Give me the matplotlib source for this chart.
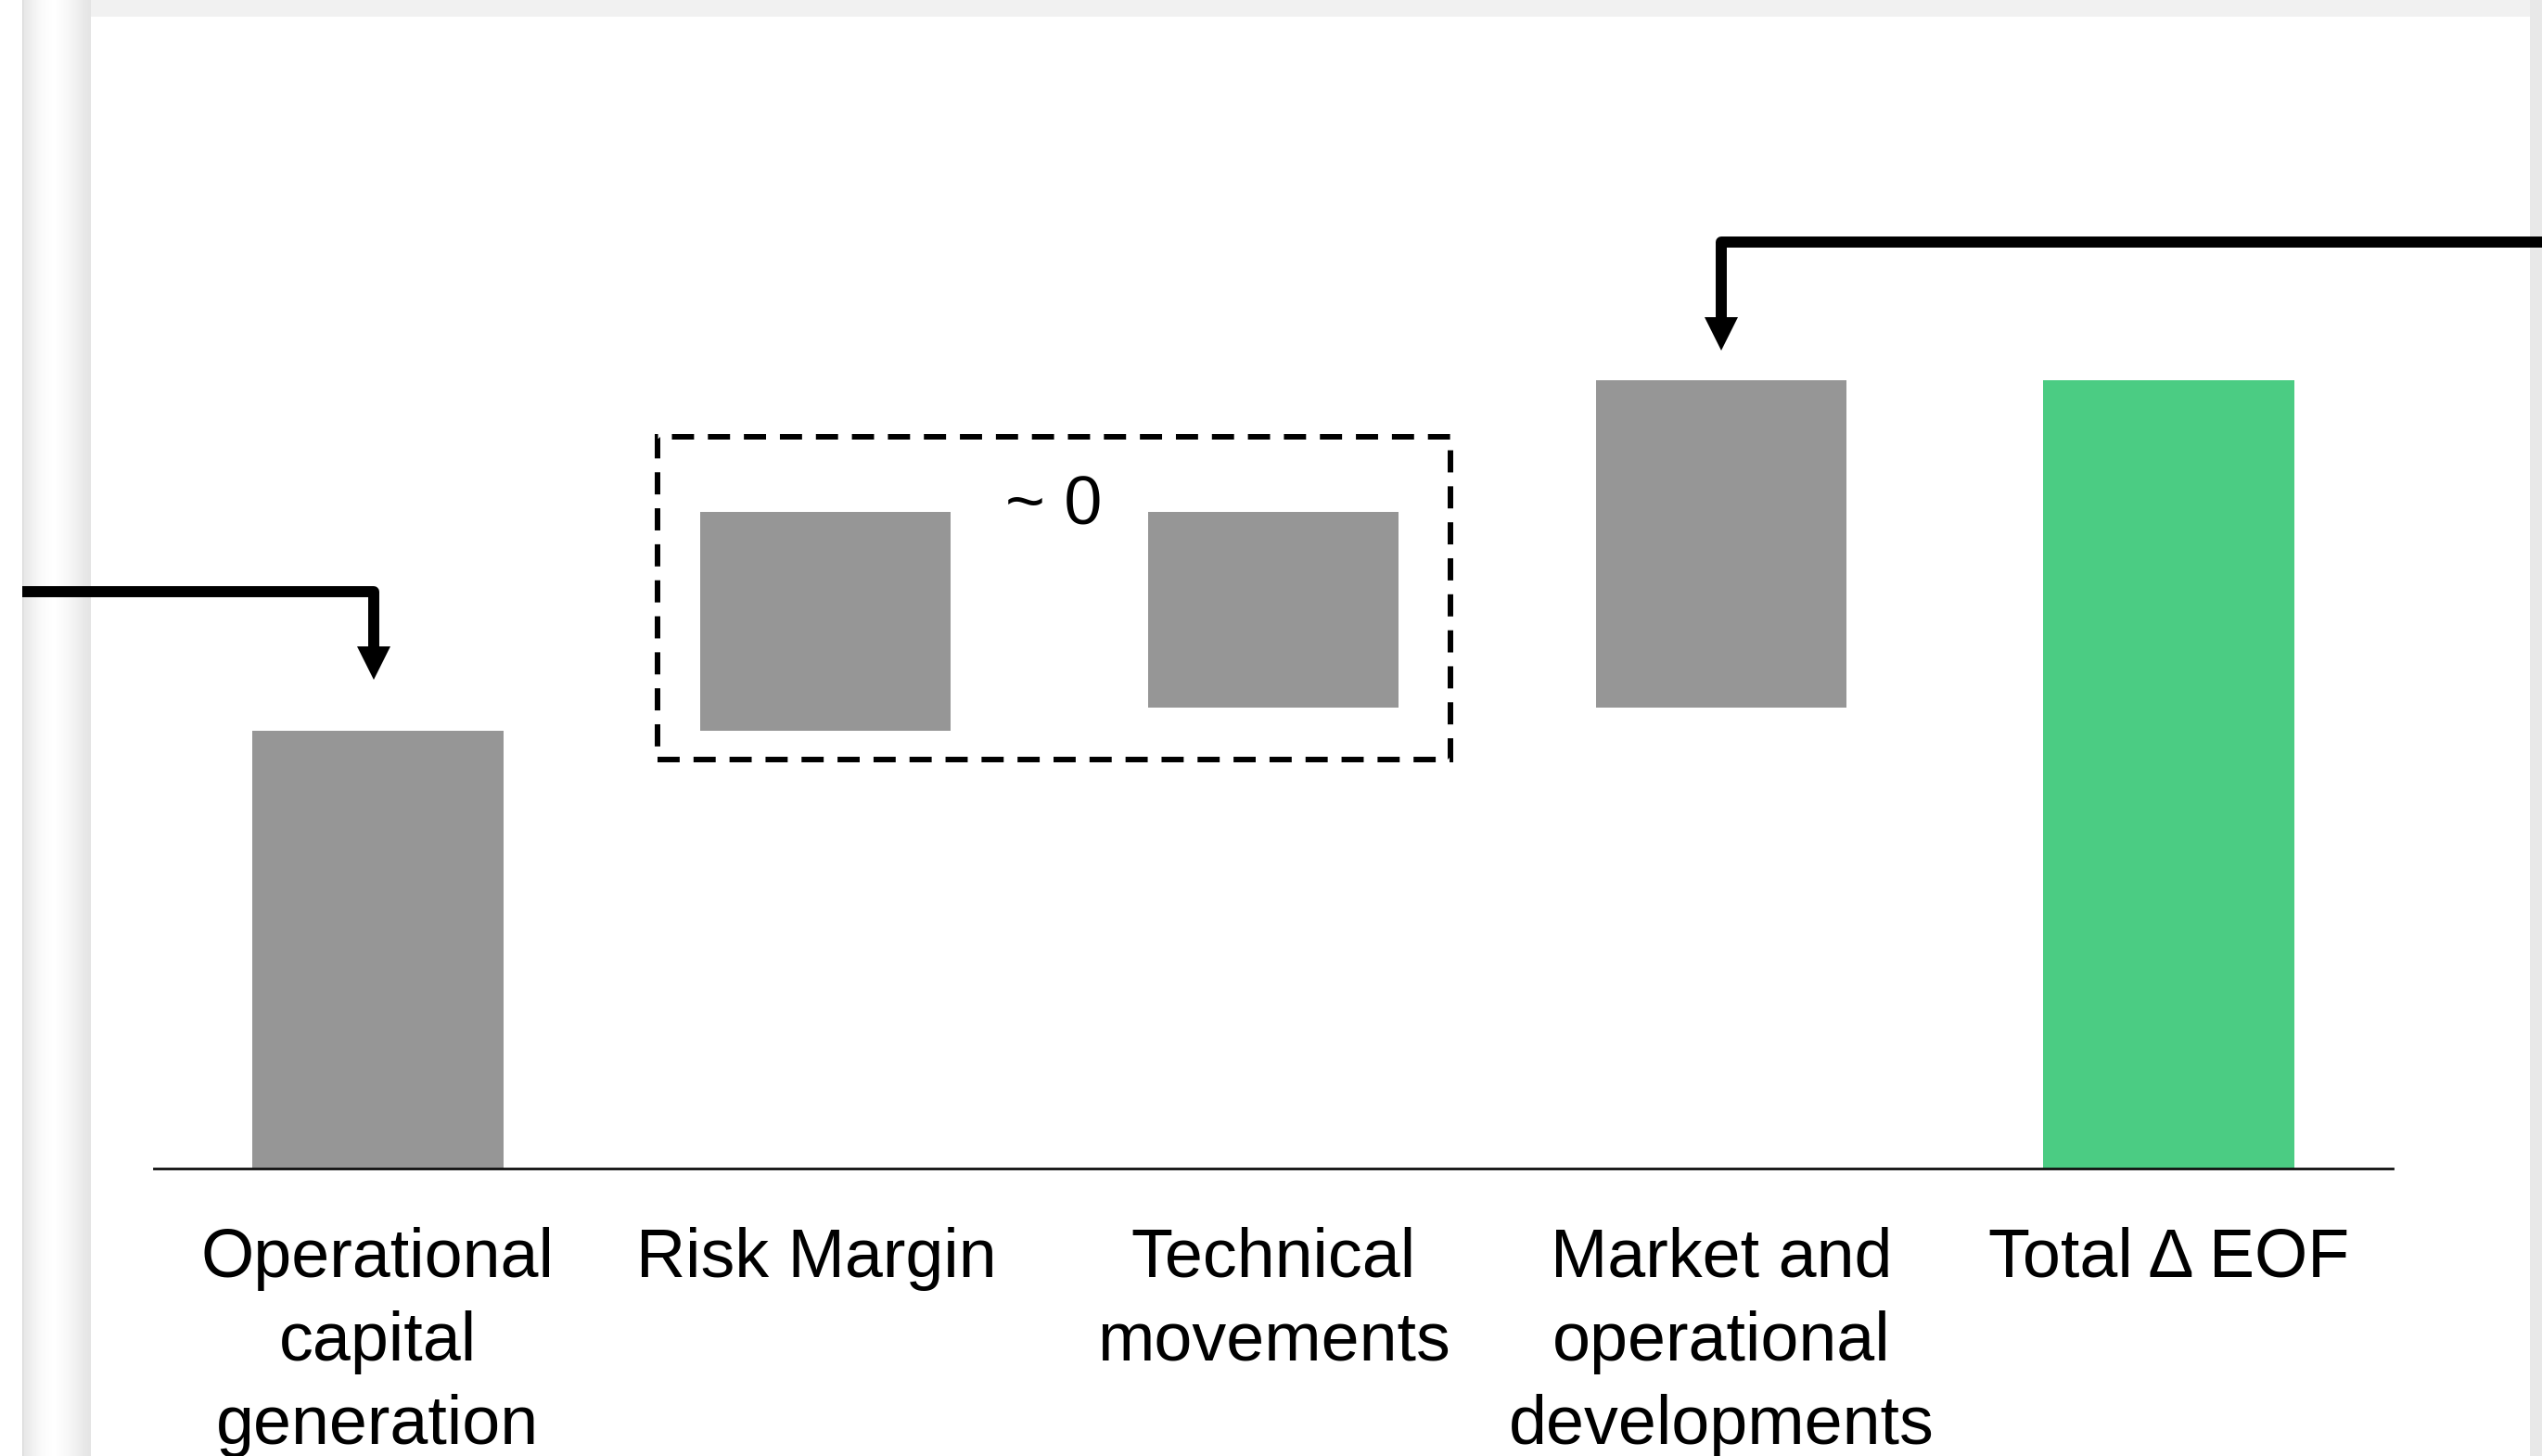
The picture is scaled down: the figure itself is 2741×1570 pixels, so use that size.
import numpy as np
import matplotlib
matplotlib.use("Agg")
import matplotlib.pyplot as plt
from matplotlib.patches import Rectangle

# waterfall data (arbitrary units)
categories = ["Operational\ncapital\ngeneration", "Risk Margin ", "Technical\nmovements",
              "Market and\noperational\ndevelopments", "Total \u0394 EOF"]
steps = [4.72, 2.36, -2.11, 3.53]

GREY = "#969696"
GREEN = "#4bcc83"

plt.rcParams['font.family'] = ['Liberation Sans', 'DejaVu Sans']

W, H = 2741, 1570
fig = plt.figure(figsize=(W / 100, H / 100), dpi=100, facecolor='white')

# page decoration: binder strip on the left, grey band on top, edge on the right
bg = fig.add_axes([0, 0, 1, 1])
bg.set_axis_off()
stops_x = [24, 26, 34, 44, 58, 72, 82, 90, 98]
stops_v = [0.86, 0.91, 0.94, 0.98, 1.0, 0.97, 0.94, 0.91, 0.89]
grad = np.interp(np.arange(24, 98), stops_x, stops_v)[None, :]
bg.imshow(grad, cmap='gray', vmin=0, vmax=1, extent=(24, 98, H, 0), aspect='auto')
bg.add_patch(Rectangle((98, 0), W - 98, 18, color='#f1f1f1', lw=0))
bg.add_patch(Rectangle((2728, 0), 13, H, color='#e8e8e8', lw=0))
bg.set_xlim(0, W)
bg.set_ylim(H, 0)

ax = fig.add_axes([166 / W, 1 - 1260 / H, 2414 / W, 1260 / H])
ax.patch.set_visible(False)

x = np.arange(len(categories))
cum = np.concatenate([[0], np.cumsum(steps)])
bottoms = list(cum[:-1]) + [0]
heights = steps + [cum[-1]]
colors = [GREY] * len(steps) + [GREEN]
ax.bar(x, heights, bottom=bottoms, width=0.56, color=colors, zorder=2)

ax.set_xlim(-0.5, 4.5)
ax.set_ylim(0, 12.6)
for s in ['top', 'left', 'right']:
    ax.spines[s].set_visible(False)
ax.spines['bottom'].set_linewidth(2)
ax.spines['bottom'].set_color('#111111')
ax.set_yticks([])
ax.set_xticks(x, categories)
ax.tick_params(axis='x', length=0, pad=45, labelsize=53)
for lbl in ax.get_xticklabels():
    lbl.set_linespacing(1.39)

# dashed box around the two offsetting steps
ax.add_patch(Rectangle((0.625, 4.41), 1.77, 3.48, fill=False, lw=4.3,
                       ls=(0, (4, 2.5)), ec='black', zorder=3))
ax.text(1.509, 6.95, "~ 0", ha='center', va='baseline', fontsize=53)


def elbow(x0, y0, x1, tip):
    # horizontal run in from the page edge, then down onto the bar
    head = 0.36
    ax.plot([x0, x1, x1], [y0, y0, tip + head * 0.8], color='black', lw=8.6,
            solid_joinstyle='round', solid_capstyle='butt', clip_on=False, zorder=4)
    ax.plot([x1], [tip + head / 2], marker='v', ms=26, color='black', mew=0,
            clip_on=False, zorder=4)


elbow(-0.794, 6.22, -0.01, 5.27)
elbow(4.84, 9.99, 3, 8.82)

fig.savefig("out.png", dpi=100, facecolor='white')
